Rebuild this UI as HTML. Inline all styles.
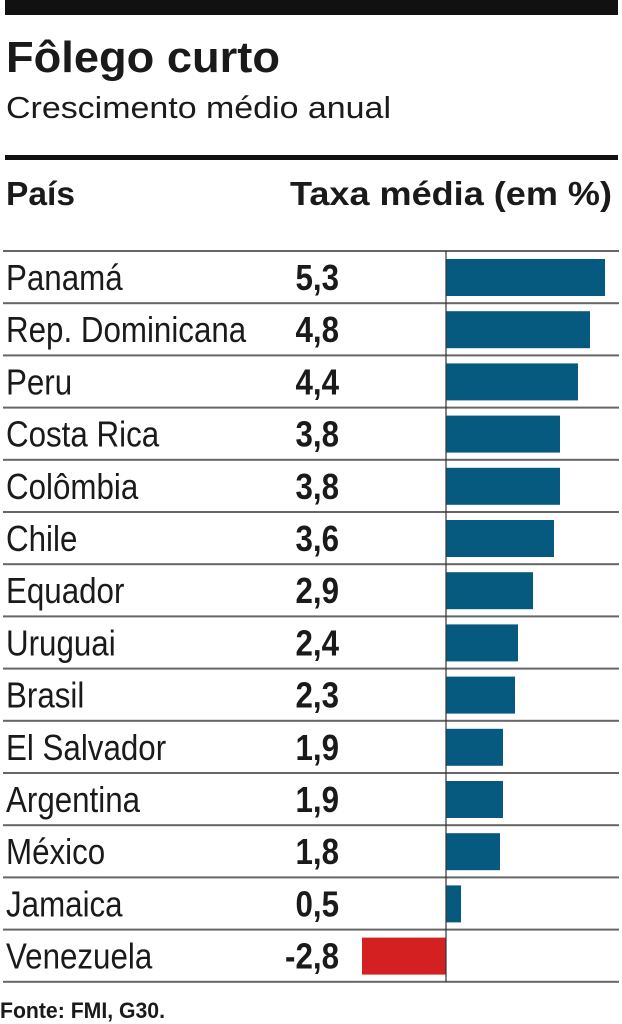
<!DOCTYPE html>
<html><head><meta charset="utf-8"><style>
html,body{margin:0;padding:0;background:#fff;}
svg{display:block;}
text{font-family:"Liberation Sans",sans-serif;fill:#1a1a1a;}
.l{font-size:36px;}
.n{font-size:36px;font-weight:bold;text-anchor:end;}
</style></head><body>
<svg width="622" height="1024" viewBox="0 0 622 1024" xmlns="http://www.w3.org/2000/svg">
<rect x="5" y="0" width="613" height="15" fill="#111"/>
<text x="6" y="72" font-size="44" font-weight="bold" textLength="274" lengthAdjust="spacingAndGlyphs">Fôlego curto</text>
<text x="6" y="118" font-size="31" textLength="385" lengthAdjust="spacingAndGlyphs" fill="#222">Crescimento médio anual</text>
<rect x="5" y="155" width="613" height="5" fill="#111"/>
<text x="6" y="205" font-size="33" font-weight="bold" textLength="69" lengthAdjust="spacingAndGlyphs">País</text>
<text x="290" y="205" font-size="33" font-weight="bold" textLength="322" lengthAdjust="spacingAndGlyphs">Taxa média (em %)</text>
<g fill="#666">
<rect x="3" y="250" width="616" height="2"/>
<rect x="3" y="302.2" width="616" height="2"/>
<rect x="3" y="354.4" width="616" height="2"/>
<rect x="3" y="406.6" width="616" height="2"/>
<rect x="3" y="458.8" width="616" height="2"/>
<rect x="3" y="511" width="616" height="2"/>
<rect x="3" y="563.2" width="616" height="2"/>
<rect x="3" y="615.4" width="616" height="2"/>
<rect x="3" y="667.6" width="616" height="2"/>
<rect x="3" y="719.8" width="616" height="2"/>
<rect x="3" y="772" width="616" height="2"/>
<rect x="3" y="824.2" width="616" height="2"/>
<rect x="3" y="876.4" width="616" height="2"/>
<rect x="3" y="928.6" width="616" height="2"/>
<rect x="3" y="980.8" width="616" height="2"/>
</g>
<g fill="#065a80">
<rect x="446" y="259" width="159" height="37"/>
<rect x="446" y="311.2" width="144" height="37"/>
<rect x="446" y="363.4" width="132" height="37"/>
<rect x="446" y="415.6" width="114" height="37"/>
<rect x="446" y="467.8" width="114" height="37"/>
<rect x="446" y="520" width="108" height="37"/>
<rect x="446" y="572.2" width="87" height="37"/>
<rect x="446" y="624.4" width="72" height="37"/>
<rect x="446" y="676.6" width="69" height="37"/>
<rect x="446" y="728.8" width="57" height="37"/>
<rect x="446" y="781" width="57" height="37"/>
<rect x="446" y="833.2" width="54" height="37"/>
<rect x="446" y="885.4" width="15" height="37"/>
</g>
<rect x="362" y="937.6" width="84" height="37" fill="#d42020"/>
<line x1="446" y1="251" x2="446" y2="982" stroke="#333" stroke-width="1.2"/>
<g transform="translate(6,0) scale(0.87,1)">
<text class="l" x="0" y="290">Panamá</text>
<text class="l" x="0" y="342.2">Rep. Dominicana</text>
<text class="l" x="0" y="394.4">Peru</text>
<text class="l" x="0" y="446.6">Costa Rica</text>
<text class="l" x="0" y="498.8">Colômbia</text>
<text class="l" x="0" y="551">Chile</text>
<text class="l" x="0" y="603.2">Equador</text>
<text class="l" x="0" y="655.4">Uruguai</text>
<text class="l" x="0" y="707.6">Brasil</text>
<text class="l" x="0" y="759.8">El Salvador</text>
<text class="l" x="0" y="812">Argentina</text>
<text class="l" x="0" y="864.2">México</text>
<text class="l" x="0" y="916.4">Jamaica</text>
<text class="l" x="0" y="968.6">Venezuela</text>
</g>
<g transform="translate(339,0) scale(0.87,1)">
<text class="n" x="0" y="290">5,3</text>
<text class="n" x="0" y="342.2">4,8</text>
<text class="n" x="0" y="394.4">4,4</text>
<text class="n" x="0" y="446.6">3,8</text>
<text class="n" x="0" y="498.8">3,8</text>
<text class="n" x="0" y="551">3,6</text>
<text class="n" x="0" y="603.2">2,9</text>
<text class="n" x="0" y="655.4">2,4</text>
<text class="n" x="0" y="707.6">2,3</text>
<text class="n" x="0" y="759.8">1,9</text>
<text class="n" x="0" y="812">1,9</text>
<text class="n" x="0" y="864.2">1,8</text>
<text class="n" x="0" y="916.4">0,5</text>
<text class="n" x="0" y="968.6">-2,8</text>
</g>
<text x="0" y="1018" font-size="22" font-weight="bold" textLength="165" lengthAdjust="spacingAndGlyphs">Fonte: FMI, G30.</text>
</svg>
</body></html>
